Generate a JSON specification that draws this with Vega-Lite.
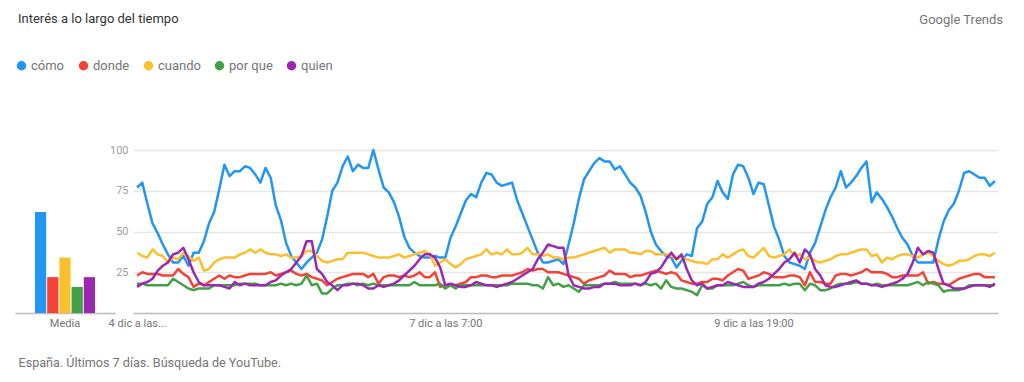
{
"$schema": "https://vega.github.io/schema/vega-lite/v6.json",
"autosize": {"type": "pad"},
"padding": {"left": 15, "top": 13, "right": 5, "bottom": 5},
"background": "white",
"bounds": "flush",
"spacing": 18,
"config": {"font": "Roboto", "view": {"stroke": null}},
"resolve": {"scale": {"color": "independent"}, "legend": {"color": "independent"}},
"datasets": {
"media": [
{"g": "Media", "s": "cómo", "v": 62},
{"g": "Media", "s": "donde", "v": 22},
{"g": "Media", "s": "cuando", "v": 34},
{"g": "Media", "s": "por que", "v": 16},
{"g": "Media", "s": "quien", "v": 22}
],
"trend": [
{"h":0,"cómo":77,"donde":23,"cuando":37,"por que":18,"quien":16},
{"h":1,"cómo":80,"donde":25,"cuando":35,"por que":18,"quien":18},
{"h":2,"cómo":67,"donde":24,"cuando":34,"por que":17,"quien":19},
{"h":3,"cómo":55,"donde":24,"cuando":39,"por que":17,"quien":21},
{"h":4,"cómo":49,"donde":24,"cuando":36,"por que":17,"quien":26},
{"h":5,"cómo":42,"donde":23,"cuando":35,"por que":17,"quien":29},
{"h":6,"cómo":36,"donde":23,"cuando":31,"por que":17,"quien":31},
{"h":7,"cómo":31,"donde":23,"cuando":34,"por que":21,"quien":36},
{"h":8,"cómo":31,"donde":27,"cuando":33,"por que":19,"quien":37},
{"h":9,"cómo":35,"donde":24,"cuando":37,"por que":17,"quien":40},
{"h":10,"cómo":29,"donde":22,"cuando":35,"por que":15,"quien":33},
{"h":11,"cómo":37,"donde":16,"cuando":32,"por que":14,"quien":25},
{"h":12,"cómo":37,"donde":18,"cuando":34,"por que":15,"quien":19},
{"h":13,"cómo":44,"donde":17,"cuando":26,"por que":15,"quien":17},
{"h":14,"cómo":55,"donde":19,"cuando":27,"por que":15,"quien":17},
{"h":15,"cómo":62,"donde":21,"cuando":31,"por que":17,"quien":17},
{"h":16,"cómo":76,"donde":23,"cuando":33,"por que":17,"quien":17},
{"h":17,"cómo":91,"donde":21,"cuando":34,"por que":17,"quien":16},
{"h":18,"cómo":84,"donde":23,"cuando":34,"por que":17,"quien":15},
{"h":19,"cómo":87,"donde":22,"cuando":34,"por que":17,"quien":19},
{"h":20,"cómo":87,"donde":22,"cuando":36,"por que":18,"quien":17},
{"h":21,"cómo":90,"donde":23,"cuando":37,"por que":18,"quien":18},
{"h":22,"cómo":89,"donde":24,"cuando":39,"por que":18,"quien":17},
{"h":23,"cómo":85,"donde":24,"cuando":37,"por que":18,"quien":17},
{"h":24,"cómo":80,"donde":24,"cuando":39,"por que":17,"quien":17},
{"h":25,"cómo":89,"donde":24,"cuando":37,"por que":17,"quien":17},
{"h":26,"cómo":83,"donde":25,"cuando":36,"por que":17,"quien":19},
{"h":27,"cómo":66,"donde":23,"cuando":36,"por que":17,"quien":20},
{"h":28,"cómo":57,"donde":24,"cuando":35,"por que":18,"quien":23},
{"h":29,"cómo":43,"donde":25,"cuando":36,"por que":17,"quien":25},
{"h":30,"cómo":35,"donde":26,"cuando":34,"por que":18,"quien":27},
{"h":31,"cómo":31,"donde":24,"cuando":34,"por que":17,"quien":31},
{"h":32,"cómo":27,"donde":23,"cuando":35,"por que":18,"quien":35},
{"h":33,"cómo":31,"donde":24,"cuando":38,"por que":23,"quien":44},
{"h":34,"cómo":34,"donde":22,"cuando":38,"por que":17,"quien":44},
{"h":35,"cómo":37,"donde":21,"cuando":35,"por que":18,"quien":27},
{"h":36,"cómo":45,"donde":20,"cuando":32,"por que":12,"quien":24},
{"h":37,"cómo":59,"donde":17,"cuando":31,"por que":12,"quien":19},
{"h":38,"cómo":75,"donde":19,"cuando":32,"por que":15,"quien":17},
{"h":39,"cómo":80,"donde":21,"cuando":33,"por que":17,"quien":14},
{"h":40,"cómo":90,"donde":22,"cuando":33,"por que":17,"quien":17},
{"h":41,"cómo":96,"donde":23,"cuando":37,"por que":18,"quien":17},
{"h":42,"cómo":87,"donde":24,"cuando":37,"por que":18,"quien":18},
{"h":43,"cómo":91,"donde":24,"cuando":37,"por que":17,"quien":18},
{"h":44,"cómo":89,"donde":24,"cuando":37,"por que":18,"quien":17},
{"h":45,"cómo":89,"donde":22,"cuando":36,"por que":17,"quien":15},
{"h":46,"cómo":100,"donde":24,"cuando":35,"por que":18,"quien":15},
{"h":47,"cómo":88,"donde":18,"cuando":34,"por que":17,"quien":17},
{"h":48,"cómo":77,"donde":22,"cuando":34,"por que":17,"quien":16},
{"h":49,"cómo":74,"donde":23,"cuando":34,"por que":17,"quien":17},
{"h":50,"cómo":68,"donde":23,"cuando":35,"por que":17,"quien":18},
{"h":51,"cómo":59,"donde":22,"cuando":36,"por que":17,"quien":20},
{"h":52,"cómo":47,"donde":23,"cuando":34,"por que":17,"quien":23},
{"h":53,"cómo":40,"donde":22,"cuando":35,"por que":17,"quien":26},
{"h":54,"cómo":37,"donde":23,"cuando":36,"por que":19,"quien":29},
{"h":55,"cómo":35,"donde":25,"cuando":37,"por que":17,"quien":33},
{"h":56,"cómo":34,"donde":22,"cuando":38,"por que":17,"quien":36},
{"h":57,"cómo":34,"donde":22,"cuando":36,"por que":17,"quien":36},
{"h":58,"cómo":35,"donde":25,"cuando":29,"por que":17,"quien":34},
{"h":59,"cómo":34,"donde":16,"cuando":31,"por que":18,"quien":28},
{"h":60,"cómo":34,"donde":17,"cuando":33,"por que":15,"quien":17},
{"h":61,"cómo":46,"donde":17,"cuando":30,"por que":17,"quien":18},
{"h":62,"cómo":53,"donde":17,"cuando":28,"por que":15,"quien":17},
{"h":63,"cómo":61,"donde":18,"cuando":30,"por que":17,"quien":16},
{"h":64,"cómo":69,"donde":19,"cuando":33,"por que":17,"quien":16},
{"h":65,"cómo":73,"donde":22,"cuando":34,"por que":17,"quien":17},
{"h":66,"cómo":71,"donde":22,"cuando":35,"por que":17,"quien":19},
{"h":67,"cómo":80,"donde":23,"cuando":36,"por que":17,"quien":18},
{"h":68,"cómo":86,"donde":23,"cuando":39,"por que":17,"quien":17},
{"h":69,"cómo":85,"donde":22,"cuando":36,"por que":17,"quien":17},
{"h":70,"cómo":80,"donde":22,"cuando":37,"por que":17,"quien":16},
{"h":71,"cómo":78,"donde":23,"cuando":36,"por que":17,"quien":17},
{"h":72,"cómo":79,"donde":23,"cuando":39,"por que":17,"quien":18},
{"h":73,"cómo":80,"donde":23,"cuando":36,"por que":18,"quien":19},
{"h":74,"cómo":69,"donde":24,"cuando":36,"por que":18,"quien":21},
{"h":75,"cómo":61,"donde":25,"cuando":37,"por que":18,"quien":23},
{"h":76,"cómo":53,"donde":27,"cuando":40,"por que":18,"quien":25},
{"h":77,"cómo":45,"donde":26,"cuando":36,"por que":17,"quien":27},
{"h":78,"cómo":37,"donde":27,"cuando":36,"por que":17,"quien":33},
{"h":79,"cómo":31,"donde":27,"cuando":35,"por que":15,"quien":37},
{"h":80,"cómo":31,"donde":25,"cuando":36,"por que":22,"quien":42},
{"h":81,"cómo":32,"donde":25,"cuando":34,"por que":17,"quien":41},
{"h":82,"cómo":33,"donde":25,"cuando":34,"por que":18,"quien":40},
{"h":83,"cómo":30,"donde":24,"cuando":33,"por que":16,"quien":40},
{"h":84,"cómo":42,"donde":23,"cuando":34,"por que":17,"quien":23},
{"h":85,"cómo":55,"donde":22,"cuando":34,"por que":15,"quien":17},
{"h":86,"cómo":70,"donde":21,"cuando":35,"por que":13,"quien":16},
{"h":87,"cómo":82,"donde":18,"cuando":36,"por que":17,"quien":15},
{"h":88,"cómo":87,"donde":20,"cuando":37,"por que":17,"quien":15},
{"h":89,"cómo":92,"donde":21,"cuando":38,"por que":17,"quien":16},
{"h":90,"cómo":95,"donde":22,"cuando":39,"por que":17,"quien":16},
{"h":91,"cómo":93,"donde":23,"cuando":40,"por que":18,"quien":18},
{"h":92,"cómo":93,"donde":26,"cuando":37,"por que":18,"quien":18},
{"h":93,"cómo":88,"donde":24,"cuando":39,"por que":19,"quien":18},
{"h":94,"cómo":90,"donde":24,"cuando":39,"por que":18,"quien":17},
{"h":95,"cómo":85,"donde":24,"cuando":39,"por que":18,"quien":17},
{"h":96,"cómo":80,"donde":22,"cuando":37,"por que":18,"quien":17},
{"h":97,"cómo":77,"donde":23,"cuando":37,"por que":18,"quien":18},
{"h":98,"cómo":72,"donde":23,"cuando":36,"por que":17,"quien":17},
{"h":99,"cómo":62,"donde":24,"cuando":38,"por que":18,"quien":19},
{"h":100,"cómo":50,"donde":25,"cuando":38,"por que":17,"quien":24},
{"h":101,"cómo":42,"donde":26,"cuando":36,"por que":18,"quien":25},
{"h":102,"cómo":38,"donde":25,"cuando":36,"por que":15,"quien":28},
{"h":103,"cómo":35,"donde":24,"cuando":36,"por que":20,"quien":33},
{"h":104,"cómo":34,"donde":25,"cuando":35,"por que":16,"quien":37},
{"h":105,"cómo":28,"donde":24,"cuando":33,"por que":15,"quien":33},
{"h":106,"cómo":32,"donde":20,"cuando":34,"por que":15,"quien":36},
{"h":107,"cómo":36,"donde":19,"cuando":33,"por que":14,"quien":27},
{"h":108,"cómo":35,"donde":18,"cuando":32,"por que":13,"quien":20},
{"h":109,"cómo":52,"donde":18,"cuando":31,"por que":11,"quien":17},
{"h":110,"cómo":56,"donde":19,"cuando":31,"por que":17,"quien":18},
{"h":111,"cómo":67,"donde":19,"cuando":30,"por que":15,"quien":15},
{"h":112,"cómo":71,"donde":21,"cuando":33,"por que":15,"quien":16},
{"h":113,"cómo":81,"donde":21,"cuando":33,"por que":17,"quien":17},
{"h":114,"cómo":74,"donde":20,"cuando":36,"por que":17,"quien":17},
{"h":115,"cómo":70,"donde":23,"cuando":34,"por que":17,"quien":19},
{"h":116,"cómo":85,"donde":25,"cuando":36,"por que":17,"quien":18},
{"h":117,"cómo":91,"donde":27,"cuando":38,"por que":18,"quien":17},
{"h":118,"cómo":90,"donde":26,"cuando":39,"por que":19,"quien":16},
{"h":119,"cómo":83,"donde":21,"cuando":35,"por que":17,"quien":16},
{"h":120,"cómo":73,"donde":22,"cuando":34,"por que":16,"quien":16},
{"h":121,"cómo":80,"donde":23,"cuando":37,"por que":17,"quien":18},
{"h":122,"cómo":79,"donde":25,"cuando":40,"por que":17,"quien":19},
{"h":123,"cómo":66,"donde":24,"cuando":35,"por que":17,"quien":21},
{"h":124,"cómo":53,"donde":22,"cuando":34,"por que":17,"quien":24},
{"h":125,"cómo":45,"donde":22,"cuando":35,"por que":17,"quien":27},
{"h":126,"cómo":35,"donde":22,"cuando":36,"por que":18,"quien":31},
{"h":127,"cómo":31,"donde":23,"cuando":39,"por que":17,"quien":33},
{"h":128,"cómo":30,"donde":23,"cuando":35,"por que":18,"quien":37},
{"h":129,"cómo":29,"donde":22,"cuando":36,"por que":18,"quien":31},
{"h":130,"cómo":27,"donde":17,"cuando":33,"por que":14,"quien":39},
{"h":131,"cómo":37,"donde":25,"cuando":34,"por que":18,"quien":36},
{"h":132,"cómo":43,"donde":19,"cuando":32,"por que":17,"quien":27},
{"h":133,"cómo":53,"donde":19,"cuando":31,"por que":14,"quien":23},
{"h":134,"cómo":63,"donde":18,"cuando":32,"por que":14,"quien":17},
{"h":135,"cómo":71,"donde":18,"cuando":33,"por que":15,"quien":16},
{"h":136,"cómo":77,"donde":23,"cuando":35,"por que":17,"quien":16},
{"h":137,"cómo":87,"donde":24,"cuando":36,"por que":18,"quien":17},
{"h":138,"cómo":77,"donde":24,"cuando":36,"por que":18,"quien":18},
{"h":139,"cómo":80,"donde":23,"cuando":37,"por que":18,"quien":19},
{"h":140,"cómo":84,"donde":24,"cuando":38,"por que":19,"quien":20},
{"h":141,"cómo":89,"donde":25,"cuando":39,"por que":18,"quien":18},
{"h":142,"cómo":93,"donde":27,"cuando":39,"por que":18,"quien":18},
{"h":143,"cómo":68,"donde":25,"cuando":35,"por que":17,"quien":17},
{"h":144,"cómo":74,"donde":25,"cuando":36,"por que":18,"quien":17},
{"h":145,"cómo":70,"donde":25,"cuando":31,"por que":17,"quien":16},
{"h":146,"cómo":65,"donde":24,"cuando":34,"por que":17,"quien":17},
{"h":147,"cómo":59,"donde":22,"cuando":33,"por que":17,"quien":18},
{"h":148,"cómo":52,"donde":22,"cuando":35,"por que":17,"quien":19},
{"h":149,"cómo":46,"donde":23,"cuando":36,"por que":17,"quien":21},
{"h":150,"cómo":42,"donde":23,"cuando":36,"por que":17,"quien":24},
{"h":151,"cómo":35,"donde":23,"cuando":35,"por que":18,"quien":31},
{"h":152,"cómo":31,"donde":23,"cuando":34,"por que":19,"quien":40},
{"h":153,"cómo":31,"donde":25,"cuando":36,"por que":17,"quien":36},
{"h":154,"cómo":31,"donde":18,"cuando":37,"por que":19,"quien":38},
{"h":155,"cómo":31,"donde":19,"cuando":35,"por que":18,"quien":37},
{"h":156,"cómo":45,"donde":18,"cuando":32,"por que":17,"quien":27},
{"h":157,"cómo":56,"donde":18,"cuando":30,"por que":13,"quien":18},
{"h":158,"cómo":63,"donde":17,"cuando":29,"por que":14,"quien":17},
{"h":159,"cómo":67,"donde":19,"cuando":30,"por que":14,"quien":15},
{"h":160,"cómo":75,"donde":21,"cuando":32,"por que":14,"quien":15},
{"h":161,"cómo":86,"donde":22,"cuando":32,"por que":15,"quien":15},
{"h":162,"cómo":87,"donde":23,"cuando":33,"por que":17,"quien":16},
{"h":163,"cómo":85,"donde":24,"cuando":35,"por que":17,"quien":17},
{"h":164,"cómo":83,"donde":24,"cuando":36,"por que":17,"quien":17},
{"h":165,"cómo":83,"donde":22,"cuando":36,"por que":17,"quien":17},
{"h":166,"cómo":78,"donde":22,"cuando":35,"por que":17,"quien":16},
{"h":167,"cómo":81,"donde":22,"cuando":37,"por que":17,"quien":18}
]
},
"hconcat": [
{
"width": 100,
"height": 163,
"data": {"name": "media"},
"title": {"text": "Interés a lo largo del tiempo", "anchor": "start", "frame": "group", "offset": 33, "dx": 3, "fontSize": 13, "fontWeight": "normal", "color": "#333333"},
"mark": {"type": "bar"},
"encoding": {
"x": {"field": "g", "type": "nominal", "scale": {"paddingInner": 0, "paddingOuter": 0.333},
"axis": {"title": "España. Últimos 7 días. Búsqueda de YouTube.", "titleX": 3, "titleY": 49, "titleAlign": "left", "titleAnchor": "start", "titleBaseline": "middle", "titleFontSize": 12.6, "titleFontWeight": "normal", "titleColor": "#757575", "labelAngle": 0, "labelColor": "#757575", "labelFontSize": 11, "ticks": false, "labelPadding": 4, "domainColor": "#bdbdbd", "domainWidth": 1.5}},
"xOffset": {"field": "s", "type": "nominal", "sort": ["cómo", "donde", "cuando", "por que", "quien"], "scale": {"paddingInner": 0.08}},
"y": {"field": "v", "type": "quantitative", "scale": {"domain": [0, 100], "nice": false}, "axis": null},
"color": {"field": "s", "type": "nominal", "sort": ["cómo", "donde", "cuando", "por que", "quien"],
"scale": {"domain": ["cómo", "donde", "cuando", "por que", "quien"], "range": ["#2196f3", "#f44336", "#fbc02d", "#43a047", "#9c27b0"]},
"legend": {"orient": "none", "legendX": 0, "legendY": -91, "direction": "horizontal", "title": null, "symbolType": "circle", "symbolSize": 90, "symbolStrokeWidth": 0, "labelFontSize": 13, "labelColor": "#757575", "labelOffset": 3, "columnPadding": 12}}
}
},
{
"width": 865,
"height": 163,
"data": {"name": "trend"},
"transform": [{"fold": ["cómo", "donde", "cuando", "por que", "quien"], "as": ["s", "v"]}],
"title": {"text": "Google Trends", "anchor": "end", "frame": "group", "offset": 117, "dx": 5, "fontSize": 13, "fontWeight": "normal", "color": "#757575"},
"mark": {"type": "line", "strokeWidth": 2.5, "strokeJoin": "round"},
"encoding": {
"x": {"field": "h", "type": "quantitative", "scale": {"domain": [-0.8, 167.6], "nice": false, "zero": false},
"axis": {"values": [0, 60, 120], "labelExpr": "datum.value == 0 ? '4 dic a las...' : datum.value == 60 ? '7 dic a las 7:00' : '9 dic a las 19:00'", "title": null, "grid": false, "ticks": false, "labelFontSize": 11, "labelColor": "#757575", "labelPadding": 4, "labelFlush": false, "labelOverlap": false, "labelBound": false, "domainColor": "#bdbdbd", "domainWidth": 1.5}},
"y": {"field": "v", "type": "quantitative", "scale": {"domain": [0, 100], "nice": false},
"axis": {"values": [25, 50, 75, 100], "title": null, "domain": false, "ticks": false, "labelPadding": 5, "labelColor": "#9e9e9e", "labelFontSize": 11, "gridColor": "#e6e6e6", "gridWidth": 1.5}},
"color": {"field": "s", "type": "nominal", "sort": ["cómo", "donde", "cuando", "por que", "quien"],
"scale": {"domain": ["cómo", "donde", "cuando", "por que", "quien"], "range": ["#2196f3", "#f44336", "#fbc02d", "#43a047", "#9c27b0"]},
"legend": null}
}
}
]
}
